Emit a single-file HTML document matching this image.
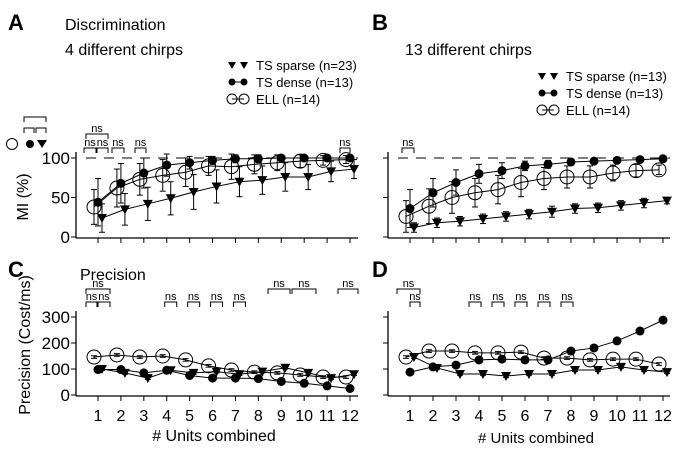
<!DOCTYPE html>
<html><head><meta charset="utf-8"><style>
body{margin:0;background:#fff}
svg{display:block;font-family:"Liberation Sans",Arial,sans-serif}
</style></head><body>
<svg id="fig" width="683" height="452" viewBox="0 0 683 452">
<text x="8" y="30" font-size="22" font-weight="bold">A</text>
<text x="65" y="30" font-size="16">Discrimination</text>
<text x="65" y="55" font-size="16">4 different chirps</text>
<text x="372" y="30" font-size="22" font-weight="bold">B</text>
<text x="405" y="55" font-size="16">13 different chirps</text>
<text x="8" y="277" font-size="22" font-weight="bold">C</text>
<text x="80" y="280" font-size="16">Precision</text>
<text x="372" y="277" font-size="22" font-weight="bold">D</text>
<text transform="translate(28,197) rotate(-90)" text-anchor="middle" font-size="16">MI (%)</text>
<text transform="translate(30,345) rotate(-90)" text-anchor="middle" font-size="16">Precision (Cost/ms)</text>
<text x="214" y="441" text-anchor="middle" font-size="16"># Units combined</text>
<text x="536" y="443" text-anchor="middle" font-size="15"># Units combined</text>
<g id="g"></g>
</svg>
<script>
const units=[1,2,3,4,5,6,7,8,9,10,11,12];
const aEll=[38,62,73,78,82,90,89,92,94,96,97,98];
const aEllErr=[22,24,20,20,18,12,16,12,10,8,6,5];
const aDense=[44,68,81,91,94,97,99,99,100,100,100,100];
const aDenseErr=[30,25,19,14,8,5,5,5,3,2,2,2];
const aSparse=[24,35,42,49,57,64,70,72,76,76,83,86];
const aSparseErr=[18,20,21,21,22,21,19,18,18,16,13,12];
const bEll=[26,39,50,56,60,69,74,76,76,81,84,85];
const bEllErr=[20,22,20,18,18,18,14,14,14,10,8,6];
const bDense=[36,56,69,80,84,90,92,95,96,97,98,99];
const bDenseErr=[24,18,16,12,10,6,5,3,2,2,2,1];
const bSparse=[12,18,20,23,26,29,32,36,37,40,43,46];
const bSparseErr=[6,6,6,6,6,6,7,6,6,6,6,4];
const cEll=[146,154,146,150,135,112,96,88,85,77,69,69];
const cDense=[98,98,85,95,75,65,65,63,52,45,35,25];
const cSparse=[100,85,65,95,85,90,80,90,105,85,65,80];
const dEll=[146,169,169,162,162,165,142,142,135,138,138,119];
const dDense=[88,108,115,135,138,135,135,169,181,208,246,288];
const dSparse=[146,104,81,81,73,81,81,96,96,108,96,88];
const miTicks=[0,50,100];
const precTicks=[0,100,200,300];

const NS="http://www.w3.org/2000/svg";
const G=document.getElementById('g');
function el(t,a,p){const e=document.createElementNS(NS,t);for(const k in a)e.setAttribute(k,a[k]);(p||G).appendChild(e);return e;}

function panel(name,x0,x1,xr,yTop,yBot,ymax,dashed,ticks,labels,showXLabels,series){
  const sx=u=>x0+22+(u-1)*((xr-x0-22)/11);
  const sy=v=>yBot-(v/ymax)*(yBot-yTop);
  const grp=el('g',{});
  
  
  const ya=el('line',{x1:x0,y1:sy(ticks[ticks.length-1])-6,x2:x0,y2:yBot+1,stroke:'#000','stroke-width':1.3},grp);
  
  
  const xa=el('line',{x1:x0,y1:yBot+1,x2:x1,y2:yBot+1,stroke:'#000','stroke-width':1.3},grp);
  
  
  ticks.forEach(t=>{
    el('line',{x1:x0-5,y1:sy(t),x2:x0,y2:sy(t),stroke:'#000'},grp);
    if(labels){const tx=el('text',{x:x0-6,y:sy(t)+6,'text-anchor':'end','font-size':17},grp);tx.textContent=t;
      
      }
  });
  units.forEach(u=>{
    el('line',{x1:sx(u),y1:yBot+1,x2:sx(u),y2:yBot+6,stroke:'#000'},grp);
    if(showXLabels){const tx=el('text',{x:sx(u),y:yBot+26,'text-anchor':'middle','font-size':16},grp);tx.textContent=u;
      
      }
  });
  if(dashed){el('line',{x1:x0+10,y1:sy(100),x2:x1,y2:sy(100),stroke:'#000','stroke-dasharray':'10,8'},grp);}
  series.forEach(s=>{
    const sg=el('g',{},grp);
    
    
    const px=units.map(u=>sx(u)+s.off);
    el('polyline',{points:s.v.map((v,i)=>px[i]+','+sy(v)).join(' '),fill:'none',stroke:'#000','stroke-width':1},sg);
    s.v.forEach((v,i)=>{
      const e=s.e?s.e[i]:5;
      el('line',{x1:px[i],y1:sy(v+e),x2:px[i],y2:sy(Math.max(0,v-e)),stroke:'#000'},sg);
      el('line',{x1:px[i]-3,y1:sy(v+e),x2:px[i]+3,y2:sy(v+e),stroke:'#000'},sg);
      el('line',{x1:px[i]-3,y1:sy(Math.max(0,v-e)),x2:px[i]+3,y2:sy(Math.max(0,v-e)),stroke:'#000'},sg);
      let m;
      if(s.t==='c')m=el('circle',{cx:px[i],cy:sy(v),r:7,fill:'none',stroke:'#000','stroke-width':1},sg);
      else if(s.t==='d')m=el('circle',{cx:px[i],cy:sy(v),r:4.5,fill:'#000'},sg);
      else {const y=sy(v);m=el('polygon',{points:`${px[i]-5},${y-4} ${px[i]+5},${y-4} ${px[i]},${y+5}`,fill:'#000'},sg);}
      
      
    });
  });
  return sx;
}
const sxA=panel('panel-a-chart',76,358,350,158,237,100,true,miTicks,true,false,[
 {name:'ell-a',t:'c',v:aEll,e:aEllErr,off:-4},{name:'ts-sparse-a',t:'t',v:aSparse,e:aSparseErr,off:4},{name:'ts-dense-a',t:'d',v:aDense,e:aDenseErr,off:0}]);
const sxB=panel('panel-b-chart',388,670,663,158,237,100,true,miTicks,false,false,[
 {name:'ell-b',t:'c',v:bEll,e:bEllErr,off:-4},{name:'ts-sparse-b',t:'t',v:bSparse,e:bSparseErr,off:4},{name:'ts-dense-b',t:'d',v:bDense,e:bDenseErr,off:0}]);
const sxC=panel('panel-c-chart',76,358,350,317,395,300,false,precTicks,true,true,[
 {name:'ell-c',t:'c',v:cEll,e:null,off:-4},{name:'ts-sparse-c',t:'t',v:cSparse,e:null,off:4},{name:'ts-dense-c',t:'d',v:cDense,e:null,off:0}]);
const sxD=panel('panel-d-chart',388,670,663,317,395,300,false,precTicks,false,true,[
 {name:'ell-d',t:'c',v:dEll,e:null,off:-4},{name:'ts-sparse-d',t:'t',v:dSparse,e:null,off:4},{name:'ts-dense-d',t:'d',v:dDense,e:null,off:0}]);
</script>
<script>
function br(x1,x2,y,label){
  const b=el('polyline',{points:`${x1},${y+5} ${x1},${y} ${x2},${y} ${x2},${y+5}`,fill:'none',stroke:'#000'});
  
  
  if(label){const t=el('text',{x:(x1+x2)/2,y:y-2,'text-anchor':'middle','font-size':11});t.textContent=label;
    
    }
}
br(84,96,148,'ns');br(97,108,148,'ns');br(86,108,134,'ns');br(112,124,148,'ns');br(135,146,148,'ns');br(340,350,148,'ns');
br(402,414,148,'ns');
br(24,46,117,'');br(24,34,128,'');br(36,46,128,'');
br(86,97,302,'ns');br(98,110,302,'ns');br(86,110,289,'ns');
[4,5,6,7].forEach(u=>br(sxC(u)-2,sxC(u)+10,302,'ns'));
br(268,290,289,'ns');br(292,316,289,'ns');br(338,358,289,'ns');
br(397,420,289,'ns');br(410,420,302,'ns');
[4,5,6,7,8].forEach(u=>br(sxD(u)-10,sxD(u)+2,302,'ns'));
el('circle',{cx:12,cy:144,r:5.5,fill:'none',stroke:'#000'});
el('circle',{cx:30,cy:144,r:4,fill:'#000'});
el('polygon',{points:'37,140 47,140 42,148',fill:'#000'});
function legend(x,y,lines){
  lines.forEach((l,i)=>{
    const yy=y+i*17;
    const gg=el('g',{});
    
    
    if(l[0]==='t'){el('polygon',{points:`${x-4},${yy-5} ${x+4},${yy-5} ${x},${yy+2}`,fill:'#000'},gg);el('polygon',{points:`${x+8},${yy-5} ${x+16},${yy-5} ${x+12},${yy+2}`,fill:'#000'},gg);}
    else if(l[0]==='d'){el('line',{x1:x,y1:yy-2,x2:x+12,y2:yy-2,stroke:'#000'},gg);el('circle',{cx:x,cy:yy-2,r:3.5,fill:'#000'},gg);el('circle',{cx:x+12,cy:yy-2,r:3.5,fill:'#000'},gg);}
    else {el('circle',{cx:x,cy:yy-2,r:5,fill:'none',stroke:'#000'},gg);el('circle',{cx:x+12,cy:yy-2,r:5,fill:'none',stroke:'#000'},gg);el('line',{x1:x,y1:yy-2,x2:x+12,y2:yy-2,stroke:'#000'},gg);}
    const t=el('text',{x:x+24,y:yy+3,'font-size':13},gg);t.textContent=l[1];
  });
}
legend(232,67,[['t','TS sparse (n=23)'],['d','TS dense (n=13)'],['c','ELL (n=14)']]);
legend(542,78,[['t','TS sparse (n=13)'],['d','TS dense (n=13)'],['c','ELL (n=14)']]);
</script>
</body></html>
